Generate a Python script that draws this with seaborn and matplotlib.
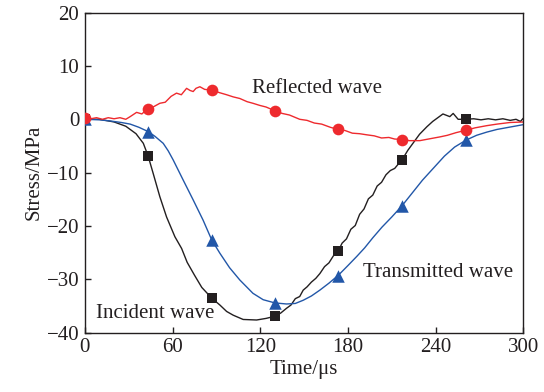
import numpy as np
import pandas as pd
import seaborn as sns
import matplotlib.pyplot as plt

# traced curves (time in us, stress in MPa)
incident_t = [0, 10, 20, 28, 35, 40, 43.3, 46.7, 51.3, 55.9, 61.6, 66.2, 70, 75, 80, 86.8, 92.4, 97,
              101.5, 108.3, 117.5, 124, 130, 134, 138, 141, 144, 147, 149.4, 152, 155, 158, 160.8,
              164, 167, 170, 173.5, 176, 179, 182, 185, 188, 191, 194, 197, 200, 203, 206, 209, 212,
              215, 217, 221, 225, 229, 234, 238, 242, 245, 249.7, 252, 255.4, 260.8, 266, 271, 276,
              281, 286, 291, 295, 298, 300]
incident_v = [0, 0, -0.5, -1.3, -2.7, -4.5, -6.9, -10.1, -14.5, -18.3, -22.0, -24.2, -26.8, -29.2,
              -31.5, -33.5, -34.8, -36.0, -36.7, -37.5, -37.6, -37.3, -36.9, -36.3, -35.4, -34.8,
              -33.6, -33.2, -32.0, -31.4, -30.5, -29.8, -28.9, -27.6, -26.9, -25.6, -24.6, -23.2,
              -22.4, -20.6, -19.9, -17.8, -16.8, -14.9, -14.2, -12.5, -11.8, -10.4, -9.6, -9.2,
              -8.2, -7.6, -5.8, -4.3, -2.8, -1.4, -0.4, 0.4, 1.0, 0.5, 1.1, 0.0, 0.0, 0.1, -0.1,
              0.1, -0.1, 0.1, -0.2, 0.0, -0.4, 0.2]

transmitted_t = [0, 10, 17, 25, 31, 37, 43.3, 48, 53.6, 57, 60.4, 67.3, 74.1, 80.9, 86.8, 92.4, 99,
                 106, 115, 122, 130, 138, 144, 149.4, 155, 160.8, 167, 173.5, 180, 186, 191.4, 197,
                 203.3, 210, 217, 224, 231, 239, 246, 253, 260.8, 268, 275, 282, 290, 300]
transmitted_v = [0, -0.1, -0.3, -0.6, -0.9, -1.5, -2.3, -3.2, -4.5, -5.9, -7.6, -11.4, -15.1,
                 -18.9, -22.6, -25.1, -27.8, -30.1, -32.6, -33.8, -34.4, -34.6, -34.5, -33.9,
                 -33.1, -32.0, -30.7, -29.2, -27.4, -25.7, -24.1, -22.2, -20.2, -18.3, -16.2,
                 -13.8, -11.4, -9.0, -6.9, -5.2, -3.9, -3.0, -2.4, -1.9, -1.5, -1.0]

reflected_t = [0, 4, 8, 12, 16, 20, 24, 28, 31, 35.4, 39, 42.6, 46, 51.3, 55, 59, 62.7, 66, 69.6,
               72, 74.1, 76, 78.7, 82, 86.7, 92, 97, 101.5, 106, 111, 115, 119.7, 124, 130, 135,
               140, 147, 152, 157, 162, 168, 173.3, 178, 183, 188, 192.7, 198, 203, 208, 212,
               216.6, 222, 229.2, 235, 242.9, 248, 254, 260, 267, 274.8, 282, 290.8, 300]
reflected_v = [0.3, 0.1, 0.3, 0.0, 0.3, 0.1, 0.3, 0.0, 0.5, 1.3, 1.0, 1.9, 2.2, 3.0, 3.2, 4.3, 4.9,
               4.6, 5.8, 5.4, 5.2, 5.8, 6.1, 5.6, 5.5, 5.0, 4.6, 4.2, 3.9, 3.3, 3.0, 2.6, 2.3, 1.6,
               1.1, 0.8, 0.0, -0.2, -0.7, -0.9, -1.5, -1.9, -2.1, -2.6, -2.7, -2.9, -3.1, -3.5,
               -3.4, -3.7, -3.75, -4.0, -4.0, -3.7, -3.3, -3.0, -2.5, -2.1, -1.6, -1.2, -0.9, -0.6,
               -0.5]

# marker positions
marker_t = [0, 43.3, 86.8, 130, 173.5, 217, 260.8]
incident_m = [0, -6.9, -33.5, -36.9, -24.6, -7.6, 0]
transmitted_m = [0, -2.3, -22.6, -34.4, -29.4, -16.2, -3.9]
reflected_m = [0.3, 1.9, 5.5, 1.6, -1.9, -3.8, -2.0]

BLACK = '#231f20'
RED = '#ee2a2e'
BLUE = '#2257a8'

sns.set_style("ticks")
plt.rcParams['font.family'] = ['Liberation Serif', 'DejaVu Serif']

fig, ax = plt.subplots(figsize=(5.44, 3.92), dpi=100)
fig.subplots_adjust(left=0.156, right=0.962, bottom=0.151, top=0.968)

series = [
    (incident_t, incident_v, incident_m, BLACK, 's', 7.6),
    (transmitted_t, transmitted_v, transmitted_m, BLUE, '^', 9.0),
    (reflected_t, reflected_v, reflected_m, RED, 'o', 8.4),
]
for t, v, m, color, mk, ms in series:
    sns.lineplot(x=t, y=v, ax=ax, color=color, lw=1.0, estimator=None, sort=False)
    sns.scatterplot(x=marker_t, y=m, ax=ax, color=color, marker=mk, s=ms ** 2,
                    linewidth=0, zorder=3)

ax.text(114.1, 4.9, 'Reflected wave', fontsize=15, color=BLACK, va='baseline')
ax.text(190.2, -29.6, 'Transmitted wave', fontsize=15, color=BLACK, va='baseline')
ax.text(7.6, -37.2, 'Incident wave', fontsize=15, color=BLACK, va='baseline')

ax.set_xlim(0, 300)
ax.set_ylim(-40, 20)
ax.set_xticks([0, 60, 120, 180, 240, 300])
ax.set_yticks([-40, -30, -20, -10, 0, 10, 20])
ax.set_yticklabels(['\u221240', '\u221230', '\u221220', '\u221210', '0', '10', '20'])
ax.tick_params(direction='in', length=4, width=1, labelsize=15, colors=BLACK, pad=4)
for s in ax.spines.values():
    s.set_linewidth(1.0)
    s.set_color(BLACK)
ax.set_xlabel('Time/\u03bcs', fontsize=15, color=BLACK, labelpad=2)
ax.set_ylabel('Stress/MPa', fontsize=15, color=BLACK, labelpad=2)

fig.savefig('out.png', dpi=100)
